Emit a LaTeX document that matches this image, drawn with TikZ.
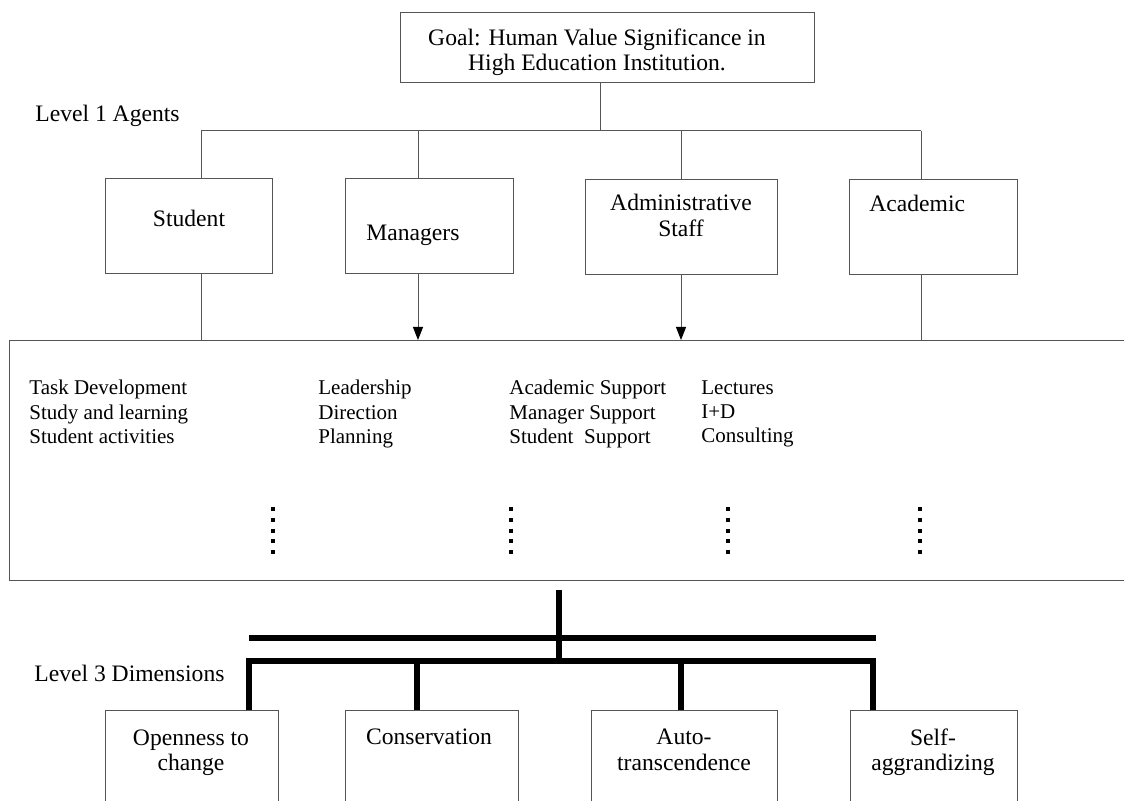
\documentclass[tikz,border=0pt]{standalone}
\usepackage{fontspec}
\setmainfont{Liberation Serif}
\usetikzlibrary{arrows.meta}

\definecolor{linegray}{RGB}{85,85,85}
\tikzstyle{box}=[draw=linegray, inner sep=0pt, anchor=north west]
\tikzstyle{boxtext}=[inner sep=0pt, align=center, font=\fontsize{11.8}{12.7}\selectfont]
\tikzstyle{listtext}=[inner sep=0pt, anchor=north west, align=left, font=\fontsize{10.5}{12.2}\selectfont]
\tikzstyle{link}=[draw=linegray, line width=0.5pt]
\tikzstyle{bar}=[draw, line width=3.3pt]
\tikzstyle{dotcol}=[draw, line width=1.8pt, dash pattern=on 2pt off 3.4pt]

\begin{document}
\begin{tikzpicture}[x=0.5pt, y=-0.5pt, >={Triangle[length=6.5pt,width=5pt,color=black]}]
		\useasboundingbox (0,0) rectangle (1124,801);
		\clip (0,0) rectangle (1124,801);

		% boxes
		\node [box, minimum width=207pt,   minimum height=35pt]  (goal)     at (400, 12)  {};
		\node [box, minimum width=83.5pt,  minimum height=47.5pt] (student)  at (105,178)  {};
		\node [box, minimum width=84pt,    minimum height=47.5pt] (managers) at (345,178)  {};
		\node [box, minimum width=96pt,    minimum height=47.5pt] (admin)    at (585,179)  {};
		\node [box, minimum width=84pt,    minimum height=47.5pt] (academic) at (849,179)  {};
		\node [box, minimum width=565.5pt, minimum height=120pt]  (tasks)    at (9,340)    {};
		\node [box, minimum width=86.5pt,  minimum height=60pt]   (open)     at (105,710)  {};
		\node [box, minimum width=86.5pt,  minimum height=60pt]   (cons)     at (345,710)  {};
		\node [box, minimum width=93pt,    minimum height=60pt]   (auto)     at (591,710)  {};
		\node [box, minimum width=83.5pt,  minimum height=60pt]   (self)     at (850,710)  {};

		% texts
		\node [boxtext] (goalT)      at (597, 52)   {Goal: Human Value Significance in\\High Education Institution.};
		\node [boxtext, anchor=west] (lvl1) at (35,115.5) {Level 1 Agents};
		\node [boxtext] (studentT)   at (189,218)   {Student};
		\node [boxtext, anchor=west] (managersT) at (366,235.5) {Managers};
		\node [boxtext] (adminT)     at (681,215.5) {Administrative\\Staff};
		\node [boxtext, anchor=west] (academicT) at (869,203) {Academic};
		\node [listtext] (studentL)  at (29,380)  {Task Development\\Study and learning\\Student activities};
		\node [listtext] (managersL) at (318,380) {Leadership\\Direction\\Planning};
		\node [listtext] (adminL)    at (509,380) {Academic Support\\Manager Support\\Student\ \ Support};
		\node [listtext] (academicL) at (701,380) {Lectures\\I+D\\Consulting};
		\node [boxtext, anchor=west] (lvl3) at (34,673) {Level 3 Dimensions};
		\node [boxtext] (openT)      at (191,752.5) {Openness to\\change};
		\node [boxtext] (consT)      at (429,737)   {Conservation};
		\node [boxtext] (autoT)      at (684,750)   {Auto-\\transcendence};
		\node [boxtext] (selfT)      at (933,752.5) {Self-\\aggrandizing};

		% level 1 tree
		\coordinate (hub) at (600,131);
		\coordinate (sJ)  at (201,131);
		\coordinate (mJ)  at (418,131);
		\coordinate (aJ)  at (681,131);
		\coordinate (cJ)  at (921,131);
		\draw [link] (goal.south -| hub) -- (hub);
		\draw [link] (sJ) -- (cJ);
		\draw [link] (sJ) -- (sJ |- student.north);
		\draw [link] (mJ) -- (mJ |- managers.north);
		\draw [link] (aJ) -- (aJ |- admin.north);
		\draw [link] (cJ) -- (cJ |- academic.north);
		\draw [link]     (student.south -| sJ)  -- (tasks.north -| sJ);
		\draw [link, ->] (managers.south -| mJ) -- (tasks.north -| mJ);
		\draw [link, ->] (admin.south -| aJ)    -- (tasks.north -| aJ);
		\draw [link]     (academic.south -| cJ) -- (tasks.north -| cJ);

		% dotted columns
		\foreach \x in {273,511,728,920}
			\draw [dotcol] (\x,507) -- (\x,556);

		% level 3 tree
		\coordinate (trunk) at (559,590);
		\coordinate (barL)  at (249,638);
		\coordinate (barR)  at (876,638);
		\coordinate (dO)    at (249,661);
		\coordinate (dC)    at (417,661);
		\coordinate (dA)    at (681,661);
		\coordinate (dS)    at (873,661);
		\draw [bar] (trunk) -- (trunk |- dO);
		\draw [bar] (barL) -- (barR);
		\draw [bar] (dO |- open.north) -- (dO) -- (dS) -- (dS |- self.north);
		\draw [bar] (dC) -- (dC |- cons.north);
		\draw [bar] (dA) -- (dA |- auto.north);
	\end{tikzpicture}
\end{document}
